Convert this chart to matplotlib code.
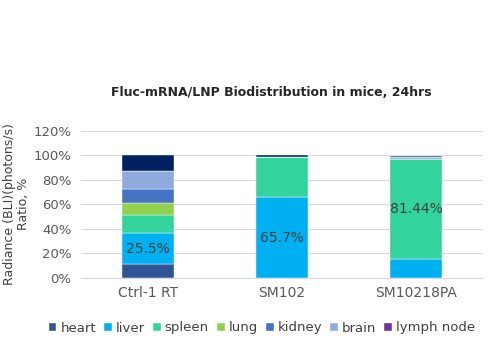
import numpy as np
import matplotlib.pyplot as plt

plt.rcParams['font.family'] = ['DejaVu Sans']

groups = ['Ctrl-1 RT', 'SM102', 'SM10218PA']
organs = ['heart', 'liver', 'spleen', 'lung', 'kidney', 'brain', 'lymph node', 'other']

# Percent of total radiance per organ, bottom to top
heart = [11.0, 0.0, 0.0]
liver = [25.5, 65.7, 15.5]
spleen = [14.5, 33.0, 81.44]
lung = [10.0, 0.0, 0.0]
kidney = [11.5, 0.0, 0.5]
brain = [15.0, 0.0, 1.5]
lymph_node = [0.0, 0.0, 0.0]
other = [12.5, 1.3, 1.0]

colors = ['#2f5597', '#00b0f0', '#33d49b', '#92d050', '#4472c4',
          '#8faadc', '#7030a0', '#002060']
labelled = {('Ctrl-1 RT', 'liver'), ('SM102', 'liver'), ('SM10218PA', 'spleen')}

series = [heart, liver, spleen, lung, kidney, brain, lymph_node, other]

fig = plt.figure(figsize=(4.89, 3.46), dpi=100)
ax = fig.add_axes([81 / 489, 1 - 277.7 / 346, 402 / 489, 146.7 / 346])

x = np.arange(len(groups))
bottom = np.zeros(len(groups))
for name, vals, c in zip(organs, series, colors):
    v = np.array(vals) / 100
    lab = name if name != 'other' else '_other'
    ax.bar(x, v, 0.395, bottom=bottom, color=c, label=lab,
           edgecolor='white', linewidth=0.3, zorder=2)
    for i, g in enumerate(groups):
        if (g, name) in labelled:
            ax.text(x[i], bottom[i] + v[i] / 2, f'{vals[i]:g}%', ha='center',
                    va='center', fontsize=10, color='#404040', zorder=3)
    bottom += v

ax.set_xlim(-0.5, 2.5)
ax.set_ylim(0, 1.2)
ax.set_yticks(np.arange(0, 1.21, 0.2))
ax.set_yticklabels([f'{int(round(t * 100))}%' for t in np.arange(0, 1.21, 0.2)])
ax.set_xticks(x)
ax.set_xticklabels(groups)
ax.yaxis.grid(True, color='#d9d9d9', linewidth=0.8, zorder=0)
ax.set_axisbelow(True)
for s in ax.spines.values():
    s.set_visible(False)
ax.spines['bottom'].set_visible(True)
ax.spines['bottom'].set_color('#d9d9d9')
ax.tick_params(length=0, colors='#595959', labelsize=9.5)
ax.tick_params(axis='x', labelsize=10, pad=6)
ax.tick_params(axis='y', pad=7)

ax.set_ylabel('Radiance (BLI)(photons/s)\nRatio, %', fontsize=9,
              color='#404040', linespacing=1.05)
ax.yaxis.set_label_coords(-0.128, 0.5)

fig.text(271 / 489, 1 - 93 / 346, 'Fluc-mRNA/LNP Biodistribution in mice, 24hrs',
         ha='center', va='center', fontsize=9, fontweight='bold', color='#262626')

handles, labels = ax.get_legend_handles_labels()
leg = fig.legend(handles, labels, loc='center', ncol=7,
                 bbox_to_anchor=(262 / 489, 1 - 328 / 346), frameon=False,
                 fontsize=9.5, handlelength=0.6, handleheight=0.6,
                 handletextpad=0.3, columnspacing=0.6, labelcolor='#404040')

fig.savefig('out.png', dpi=100)
